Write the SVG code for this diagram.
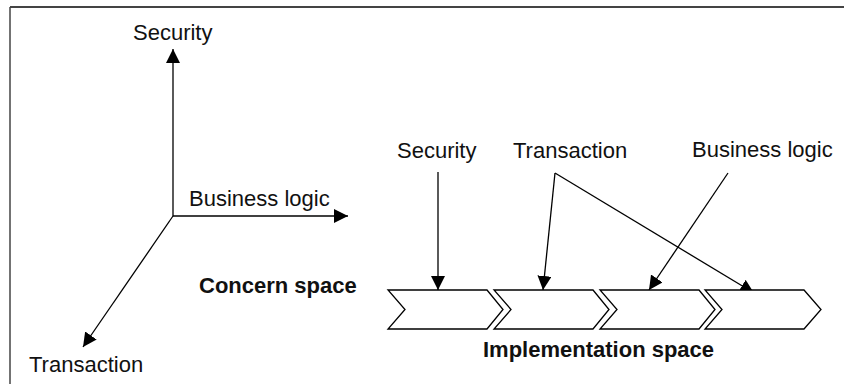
<svg xmlns="http://www.w3.org/2000/svg" width="844" height="384" viewBox="0 0 844 384">
  <style>
    .frame { stroke: #444; fill: none; }
    .edge { stroke: #000; stroke-width: 1.3; fill: none; marker-end: url(#head); }
    .chev { fill: #fff; stroke: #000; stroke-width: 1.3; stroke-linejoin: miter; }
    .lbl { font-family: "Liberation Sans", Arial, sans-serif; font-size: 22px; fill: #111; }
    .bold { font-family: "Liberation Sans", Arial, sans-serif; font-size: 22px; font-weight: bold; fill: #111; }
  </style>
  <defs>
    <marker id="head" markerUnits="userSpaceOnUse" markerWidth="15" markerHeight="15" refX="14" refY="7" orient="auto">
      <path d="M0,0 L14,7 L0,14 z" fill="#000"/>
    </marker>
  </defs>

  <rect width="844" height="384" fill="#fff"/>
  <!-- frame: top and left rules -->
  <line class="frame" x1="10" y1="7" x2="844" y2="7" stroke-width="2"/>
  <line class="frame" x1="10" y1="7" x2="10" y2="384" stroke-width="1.5"/>

  <!-- concern space axes -->
  <g id="axes">
    <line class="edge" x1="173" y1="216" x2="173" y2="49"/>
    <line class="edge" x1="173" y1="216" x2="348" y2="216"/>
    <line class="edge" x1="173" y1="216" x2="83" y2="347"/>
  </g>
  <g id="axis-security"><text class="lbl" x="133" y="40">Security</text></g>
  <g id="axis-business"><text class="lbl" x="189" y="206">Business logic</text></g>
  <g id="axis-transaction"><text class="lbl" x="29" y="372">Transaction</text></g>
  <g id="concern-space"><text class="bold" x="199" y="293">Concern space</text></g>

  <!-- concern labels -->
  <g id="concern-security"><text class="lbl" x="397" y="158">Security</text></g>
  <g id="concern-transaction"><text class="lbl" x="513" y="158">Transaction</text></g>
  <g id="concern-business"><text class="lbl" x="692" y="157">Business logic</text></g>

  <!-- connectors -->
  <g id="connectors">
    <line class="edge" x1="438" y1="172" x2="438" y2="290"/>
    <line class="edge" x1="555" y1="173" x2="543" y2="290"/>
    <line class="edge" x1="555" y1="173" x2="754" y2="293"/>
    <line class="edge" x1="728" y1="173" x2="649" y2="290"/>
  </g>

  <!-- implementation chevrons -->
  <g id="step-1"><path class="chev" d="M388,290 H487 L503,309.5 L487,329 H388 L405,309.5 Z"/></g>
  <g id="step-2"><path class="chev" d="M494,290 H593 L609,309.5 L593,329 H494 L511,309.5 Z"/></g>
  <g id="step-3"><path class="chev" d="M600,290 H699 L715,309.5 L699,329 H600 L617,309.5 Z"/></g>
  <g id="step-4"><path class="chev" d="M705,290 H804 L821,309.5 L804,329 H705 L722,309.5 Z"/></g>

  <g id="implementation-space"><text class="bold" x="483" y="357">Implementation space</text></g>
</svg>
